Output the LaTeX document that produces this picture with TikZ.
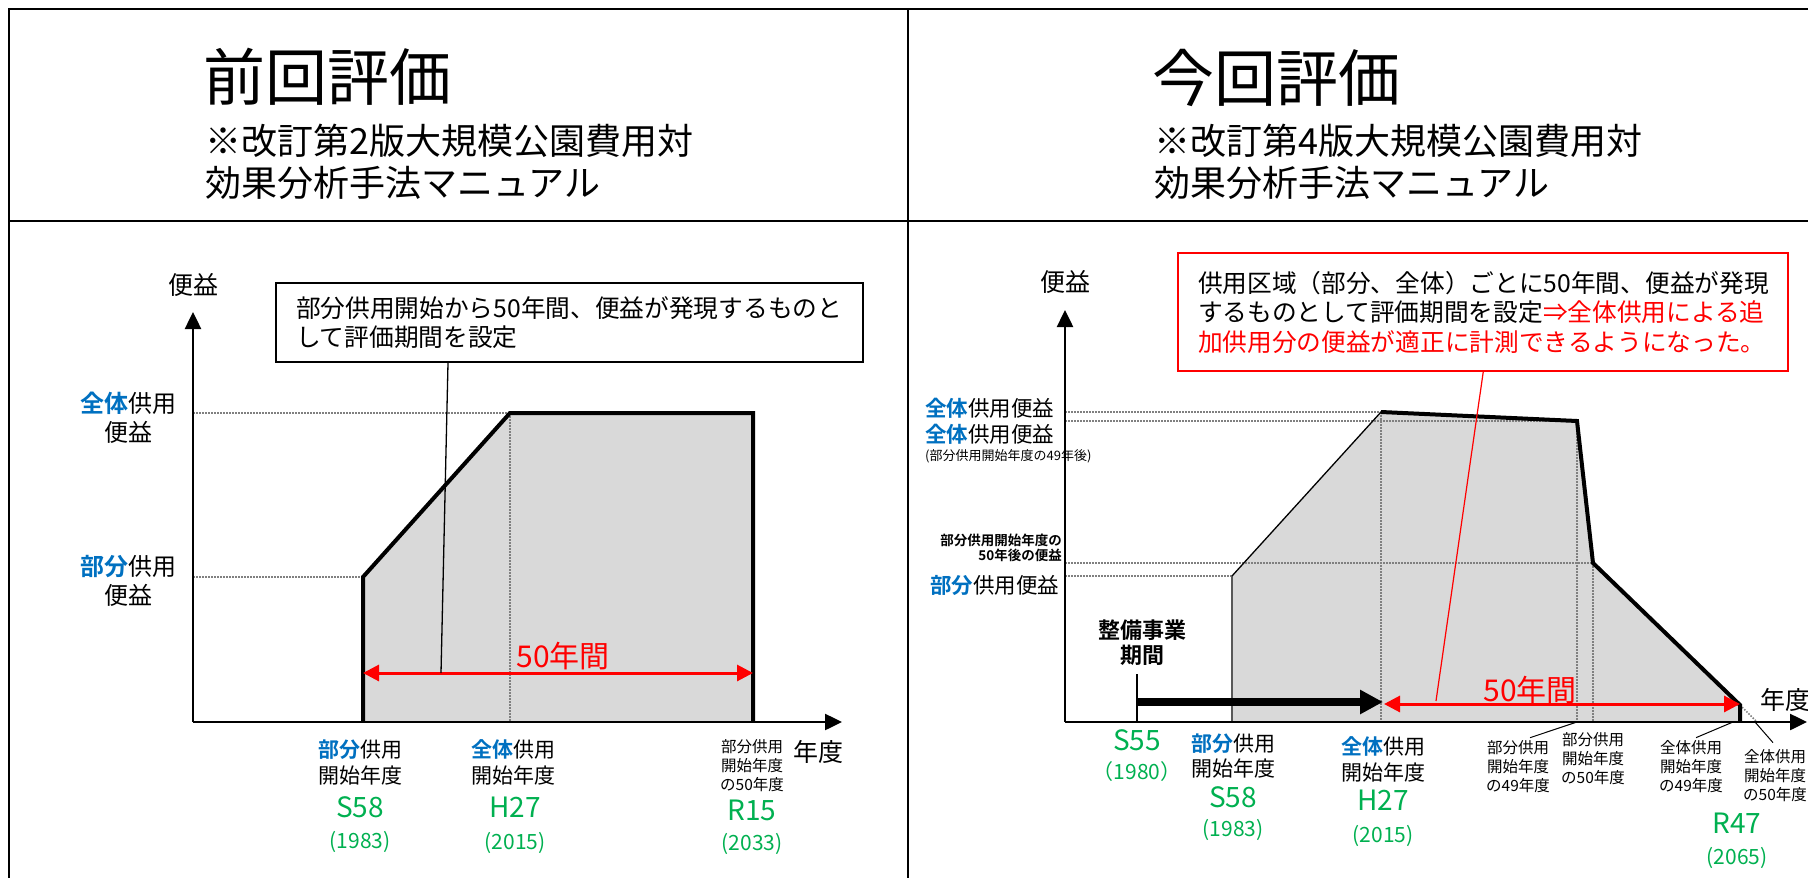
\documentclass[tikz,border=0pt]{standalone}
\usepackage{fontspec}
\setmainfont{Noto Sans CJK JP}[BoldFont={Noto Sans CJK JP Bold}]
\usetikzlibrary{arrows.meta,calc}
\definecolor{ablue}{RGB}{0,112,192}
\definecolor{agreen}{RGB}{0,176,80}
\definecolor{ared}{RGB}{255,0,0}
\definecolor{afill}{RGB}{217,217,217}
\definecolor{adot}{RGB}{128,128,128}
\newcommand{\myfs}[2]{\fontsize{#1}{#2}\selectfont}
\newcommand{\zb}{\textbf{\textcolor{ablue}{全体}}}
\newcommand{\bb}{\textbf{\textcolor{ablue}{部分}}}
\begin{document}
\begin{tikzpicture}[x=1pt,y=-1pt,
  every node/.style={inner sep=0pt},
  frameln/.style={line width=1.8pt},
  axisln/.style={line width=2.5pt,-{Triangle[length=17pt,width=16pt]}},
  dotln/.style={adot,line width=1.5pt,dash pattern=on 1.5pt off 1.5pt},
  shapeln/.style={line width=4pt,line join=miter},
  redarrow/.style={ared,line width=3pt,{Triangle[length=16pt,width=16pt]}-{Triangle[length=16pt,width=16pt]}},
  blkarrow/.style={line width=8pt,-{Triangle[length=23pt,width=23pt]}},
  title/.style={anchor=west,font=\myfs{62}{70}},
  subtitle/.style={anchor=west,align=left,font=\myfs{36}{42}},
  axlbl/.style={font=\myfs{25}{29}},
  side/.style={font=\myfs{24}{29},align=center},
  lbl/.style={font=\myfs{21}{25.5},align=center},
  small/.style={font=\myfs{15.5}{19},align=center},
  yr/.style={text=agreen,font=\myfs{28}{30}},
  yrp/.style={text=agreen,font=\myfs{21}{24}},
  fifty/.style={text=ared,font=\myfs{30}{32}},
  boxtext/.style={font=\myfs{24.7}{29.5},align=left}
]
\useasboundingbox (0,0) rectangle (1808,878);

% ---------- table frame ----------
\draw[frameln] (9,878) -- (9,9) -- (1808,9);
\draw[frameln] (908,9) -- (908,878);
\draw[frameln] (9,221) -- (1808,221);

% ---------- headers ----------
\node[title] (t1) at (203,77) {前回評価};
\node[subtitle] (s1) at (205,162) {※改訂第2版大規模公園費用対\\効果分析手法マニュアル};
\node[title] (t2) at (1152,78) {今回評価};
\node[subtitle] (s2) at (1154,162) {※改訂第4版大規模公園費用対\\効果分析手法マニュアル};

% ================= LEFT CHART =================
\coordinate (O1) at (193,722);
\coordinate (Y1) at (193,312);
\coordinate (X1) at (842,722);
\coordinate (a1) at (363,722);
\coordinate (a2) at (363,577);
\coordinate (a3) at (510,413);
\coordinate (a4) at (753,413);
\coordinate (a5) at (753,722);
\fill[afill] (a1) -- (a2) -- (a3) -- (a4) -- (a5) -- cycle;
\draw[dotln] (O1 |- a3) -- (a3);
\draw[dotln] (O1 |- a2) -- (a2);
\draw[dotln] (a3) -- (a3 |- O1);
\draw[shapeln] (a1) -- (a2) -- (a3) -- (a4) -- (a5);
\draw[axisln] (O1) -- (Y1);
\draw[axisln] (O1) -- (X1);

\coordinate (r1) at (363,673);
\coordinate (r2) at (753,673);
\coordinate (c1) at (441,673);
\draw[redarrow] (r1) -- (r2);
\node[fifty] (f1) at (563,656) {50年間};

\node[draw,line width=2pt,minimum width=587pt,minimum height=79pt,
      text width=547pt,boxtext] (lbox) at (569.5,322.5)
  {部分供用開始から50年間、便益が発現するものと\\して評価期間を設定};
\draw[line width=1.3pt] ($(lbox.south west)+(173,0)$) -- (c1);

\node[axlbl] (yl1) at (193,285) {便益};
\node[axlbl] (xl1) at (818,752) {年度};
\node[side] (v1) at (128,418) {\zb 供用\\便益};
\node[side] (v2) at (128,581) {\bb 供用\\便益};

\node[lbl] (l1) at (360,762.5) {\bb 供用\\開始年度};
\node[yr] (l1y) at (360,807) {S58};
\node[yrp] (l1p) at (360,842) {(1983)};
\node[lbl] (l2) at (513,762.5) {\zb 供用\\開始年度};
\node[yr] (l2y) at (515,807) {H27};
\node[yrp] (l2p) at (515,843) {(2015)};
\node[small] (l3) at (752,766) {部分供用\\開始年度\\の50年度};
\node[yr] (l3y) at (752,810) {R15};
\node[yrp] (l3p) at (752,844) {(2033)};

% ================= RIGHT CHART =================
\coordinate (O2) at (1065,722);
\coordinate (Y2) at (1065,310);
\coordinate (X2) at (1807,722);
\coordinate (b1) at (1232,722);
\coordinate (b2) at (1232,576);
\coordinate (b3) at (1381,412);
\coordinate (b4) at (1577,421);
\coordinate (b5) at (1593,563);
\coordinate (b6) at (1740,705);
\coordinate (b7) at (1740,722);
\coordinate (b8) at (1757,722);
\fill[afill] (b1) -- (b2) -- (b3) -- (b4) -- (b5) -- (b6) -- (b7) -- cycle;
\draw[dotln] (O2 |- b3) -- (b3);
\draw[dotln] (O2 |- b4) -- (b4);
\draw[dotln] (O2 |- b5) -- (b5);
\draw[dotln] (O2 |- b2) -- (b2);
\draw[dotln] (b3) -- (b3 |- O2);
\draw[dotln] (b4) -- (b4 |- O2);
\draw[dotln] (b5) -- (b5 |- O2);
\draw[dotln] (b6) -- (b8);
\draw[line width=1.5pt,black!65] (b1) -- (b2);
\draw[line width=1.3pt] (b2) -- (b3);
\draw[shapeln] (b3) -- (b4) -- (b5) -- (b6) -- (b7);
\draw[axisln] (O2) -- (Y2);
\draw[axisln] (O2) -- (X2);

% construction period arrow
\coordinate (k0) at (1137,674);
\coordinate (k1) at (1137,722);
\coordinate (k2) at (1137,702);
\coordinate (k3) at (1383,702);
\draw[line width=1.3pt] (k0) -- (k1);
\draw[blkarrow] (k2) -- (k3);
\node[font=\bfseries\myfs{22}{25},align=center] (kt) at (1142,642.5) {整備事業\\期間};

% 50 years arrow
\coordinate (q1) at (1384,704);
\coordinate (q2) at (1740,704);
\coordinate (c2) at (1436,701);
\draw[redarrow] (q1) -- (q2);
\node[fifty] (f2) at (1530,690) {50年間};

% red box
\node[draw=ared,line width=1.5pt,minimum width=610pt,minimum height=118pt,
      text width=570pt,boxtext] (rbox) at (1483,312)
  {\raisebox{0pt}[\height][\depth]{}供用区域（部分、全体）ごとに50年間、便益が発現\\するものとして評価期間を設定\textcolor{ared}{⇒全体供用による追}\\\textcolor{ared}{加供用分の便益が適正に計測できるようになった。}};
\draw[ared,line width=1.2pt] ($(rbox.south west)+(306,0)$) -- (c2);

% axis labels
\node[axlbl] (yl2) at (1065,282) {便益};
\node[axlbl,anchor=west] (xl2) at (1760,700) {年度};

% side labels
\node[anchor=west,font=\myfs{21.5}{26}] (w1) at (925,408) {\zb 供用便益};
\node[anchor=west,font=\myfs{21.5}{26}] (w2) at (925,434) {\zb 供用便益};
\node[anchor=west,font=\myfs{13}{15}] (w3) at (925,456) {(部分供用開始年度の49年後)};
\node[anchor=east,align=right,font=\bfseries\myfs{13.5}{14.5}] (w4) at (1062,548) {部分供用開始年度の\\50年後の便益};
\node[anchor=west,font=\myfs{21.5}{26}] (w5) at (930,585) {\bb 供用便益};

% bottom labels
\node[yr] (m0y) at (1137,740) {S55};
\node[yrp] (m0p) at (1137,772) {（1980）};
\node[lbl] (m1) at (1233,756) {\bb 供用\\開始年度};
\node[yr] (m1y) at (1233,797) {S58};
\node[yrp] (m1p) at (1233,830) {(1983)};
\node[lbl] (m2) at (1383,759.5) {\zb 供用\\開始年度};
\node[yr] (m2y) at (1383,800) {H27};
\node[yrp] (m2p) at (1383,836) {(2015)};
\node[small] (p49) at (1518,767) {部分供用\\開始年度\\の49年度};
\node[small] (p50) at (1593,759) {部分供用\\開始年度\\の50年度};
\node[small] (z49) at (1691,767) {全体供用\\開始年度\\の49年度};
\node[small] (z50) at (1775,776) {全体供用\\開始年度\\の50年度};
\node[yr] (m3y) at (1737,823) {R47};
\node[yrp] (m3p) at (1737,858) {(2065)};

% leader lines
\coordinate (e1) at (1577,722);
\coordinate (e2) at (1733,722);
\coordinate (e3) at (1755,722);
\draw[line width=1pt] (e1) -- ($(p49.north east)+(-20,-3)$);
\draw[line width=1pt] (e2) -- ($(z49.north east)+(-27,-3)$);
\draw[line width=1pt] (e3) -- ($(z50.north)+(-2,-7)$);
\end{tikzpicture}
\end{document}
